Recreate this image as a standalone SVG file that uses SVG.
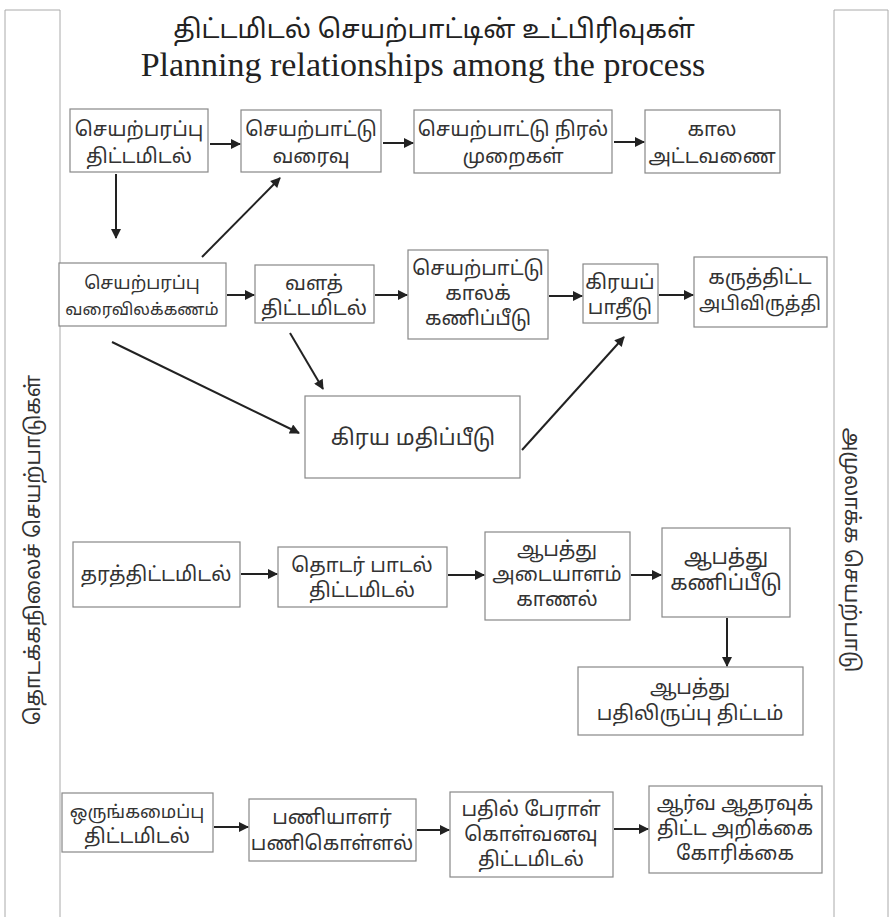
<svg xmlns="http://www.w3.org/2000/svg" width="891" height="917" viewBox="0 0 891 917">
<defs>
<marker id="ah" viewBox="0 0 10 10" refX="9" refY="5" markerWidth="6" markerHeight="5" orient="auto" markerUnits="strokeWidth">
<path d="M0,0 L10,5 L0,10 z" fill="#222"/>
</marker>
<style>
.bx{fill:#fff;stroke:#888;stroke-width:1.2}
.t{font-family:"Noto Sans Tamil","Lohit Tamil","Latha","Noto Sans",sans-serif;font-size:20px;fill:#333;text-anchor:middle}
.s{font-size:18px}
.c{stroke:#222;stroke-width:2;fill:none;marker-end:url(#ah)}
.fr{stroke:#aaa;stroke-width:1;fill:none}
</style>
</defs>
<rect width="891" height="917" fill="#fff"/>
<g id="frame">
<path class="fr" d="M5,10 H60 M5,10 V917 M60,10 V917 M834,10 H888 M834,10 V917 M888,10 V917"/>
</g>
<g id="title">
<text x="434" y="38" style="font-family:'Noto Sans Tamil','Lohit Tamil','Noto Sans',sans-serif;font-size:26px;fill:#222;text-anchor:middle">திட்டமிடல் செயற்பாட்டின் உட்பிரிவுகள்</text>
<text x="423" y="76" style="font-family:'Liberation Serif',serif;font-size:34px;fill:#222;text-anchor:middle">Planning relationships among the process</text>
</g>
<g id="side-left"><text class="t" transform="translate(40,550) rotate(-90)" style="font-size:21px">தொடக்கநிலைச் செயற்பாடுகள்</text></g>
<g id="side-right"><text class="t" transform="translate(845,550) rotate(90)" style="font-size:21px">அமுலாக்க செயற்பாடு</text></g>

<g id="n1"><rect class="bx" x="70" y="109" width="138" height="63"/><text class="t" x="139" y="136">செயற்பரப்பு</text><text class="t" x="139" y="163">திட்டமிடல்</text></g>
<g id="n2"><rect class="bx" x="241" y="110" width="140" height="62"/><text class="t" x="311" y="136">செயற்பாட்டு</text><text class="t" x="311" y="163">வரைவு</text></g>
<g id="n3"><rect class="bx" x="414" y="110" width="198" height="63"/><text class="t" x="513" y="136">செயற்பாட்டு நிரல்</text><text class="t" x="513" y="163">முறைகள்</text></g>
<g id="n4"><rect class="bx" x="645" y="110" width="135" height="63"/><text class="t" x="712" y="136">கால</text><text class="t" x="712" y="163">அட்டவணை</text></g>

<g id="n5"><rect class="bx" x="59" y="263" width="167" height="63"/><text class="t s" x="142" y="289">செயற்பரப்பு</text><text class="t" x="142" y="315" style="font-size:16.5px">வரைவிலக்கணம்</text></g>
<g id="n6"><rect class="bx" x="255" y="265" width="119" height="58"/><text class="t" x="314" y="290">வளத்</text><text class="t" x="314" y="315">திட்டமிடல்</text></g>
<g id="n7"><rect class="bx" x="408" y="250" width="140" height="89"/><text class="t" x="478" y="275">செயற்பாட்டு</text><text class="t" x="478" y="300">காலக்</text><text class="t" x="478" y="325">கணிப்பீடு</text></g>
<g id="n8"><rect class="bx" x="583" y="264" width="75" height="59"/><text class="t" x="620" y="289">கிரயப்</text><text class="t" x="620" y="314">பாதீடு</text></g>
<g id="n9"><rect class="bx" x="694" y="257" width="133" height="70"/><text class="t" x="760" y="284">கருத்திட்ட</text><text class="t" x="760" y="310" style="font-size:19px">அபிவிருத்தி</text></g>

<g id="n10"><rect class="bx" x="305" y="396" width="215" height="82"/><text class="t" x="413" y="445" style="font-size:22px">கிரய  மதிப்பீடு</text></g>

<g id="n11"><rect class="bx" x="73" y="542" width="167" height="65"/><text class="t" x="156" y="581">தரத்திட்டமிடல்</text></g>
<g id="n12"><rect class="bx" x="278" y="547" width="169" height="60"/><text class="t" x="362" y="572">தொடர் பாடல்</text><text class="t" x="362" y="597">திட்டமிடல்</text></g>
<g id="n13"><rect class="bx" x="485" y="532" width="145" height="88"/><text class="t" x="557" y="556">ஆபத்து</text><text class="t" x="557" y="581">அடையாளம்</text><text class="t" x="557" y="606">காணல்</text></g>
<g id="n14"><rect class="bx" x="662" y="528" width="128" height="89"/><text class="t" x="726" y="564" style="font-size:21px">ஆபத்து</text><text class="t" x="726" y="590" style="font-size:21px">கணிப்பீடு</text></g>
<g id="n15"><rect class="bx" x="578" y="667" width="225" height="68"/><text class="t" x="690" y="694">ஆபத்து</text><text class="t" x="690" y="720">பதிலிருப்பு  திட்டம்</text></g>

<g id="n16"><rect class="bx" x="62" y="793" width="151" height="59"/><text class="t s" x="137" y="818">ஒருங்கமைப்பு</text><text class="t" x="137" y="843">திட்டமிடல்</text></g>
<g id="n17"><rect class="bx" x="249" y="799" width="167" height="62"/><text class="t" x="332" y="824">பணியாளர்</text><text class="t" x="332" y="850">பணிகொள்ளல்</text></g>
<g id="n18"><rect class="bx" x="450" y="792" width="163" height="85"/><text class="t" x="531" y="816">பதில் பேராள்</text><text class="t" x="531" y="841">கொள்வனவு</text><text class="t" x="531" y="866">திட்டமிடல்</text></g>
<g id="n19"><rect class="bx" x="649" y="786" width="173" height="87"/><text class="t" x="735" y="810">ஆர்வ  ஆதரவுக்</text><text class="t" x="735" y="835">திட்ட  அறிக்கை</text><text class="t" x="735" y="860">கோரிக்கை</text></g>

<g id="connectors">
<line class="c" x1="210" y1="144" x2="240" y2="144"/>
<line class="c" x1="383" y1="143" x2="413" y2="143"/>
<line class="c" x1="614" y1="142" x2="644" y2="142"/>
<line class="c" x1="116" y1="174" x2="116" y2="238"/>
<line class="c" x1="202" y1="257" x2="280" y2="178"/>
<line class="c" x1="227" y1="295" x2="254" y2="295"/>
<line class="c" x1="375" y1="295" x2="407" y2="295"/>
<line class="c" x1="549" y1="296" x2="582" y2="296"/>
<line class="c" x1="659" y1="295" x2="693" y2="295"/>
<line class="c" x1="290" y1="333" x2="323" y2="389"/>
<line class="c" x1="112" y1="342" x2="299" y2="433"/>
<line class="c" x1="522" y1="450" x2="624" y2="337"/>
<line class="c" x1="241" y1="574" x2="277" y2="574"/>
<line class="c" x1="448" y1="575" x2="484" y2="575"/>
<line class="c" x1="631" y1="575" x2="661" y2="575"/>
<line class="c" x1="727" y1="618" x2="727" y2="666"/>
<line class="c" x1="214" y1="827" x2="248" y2="827"/>
<line class="c" x1="417" y1="830" x2="449" y2="830"/>
<line class="c" x1="614" y1="829" x2="648" y2="829"/>
</g>
</svg>
